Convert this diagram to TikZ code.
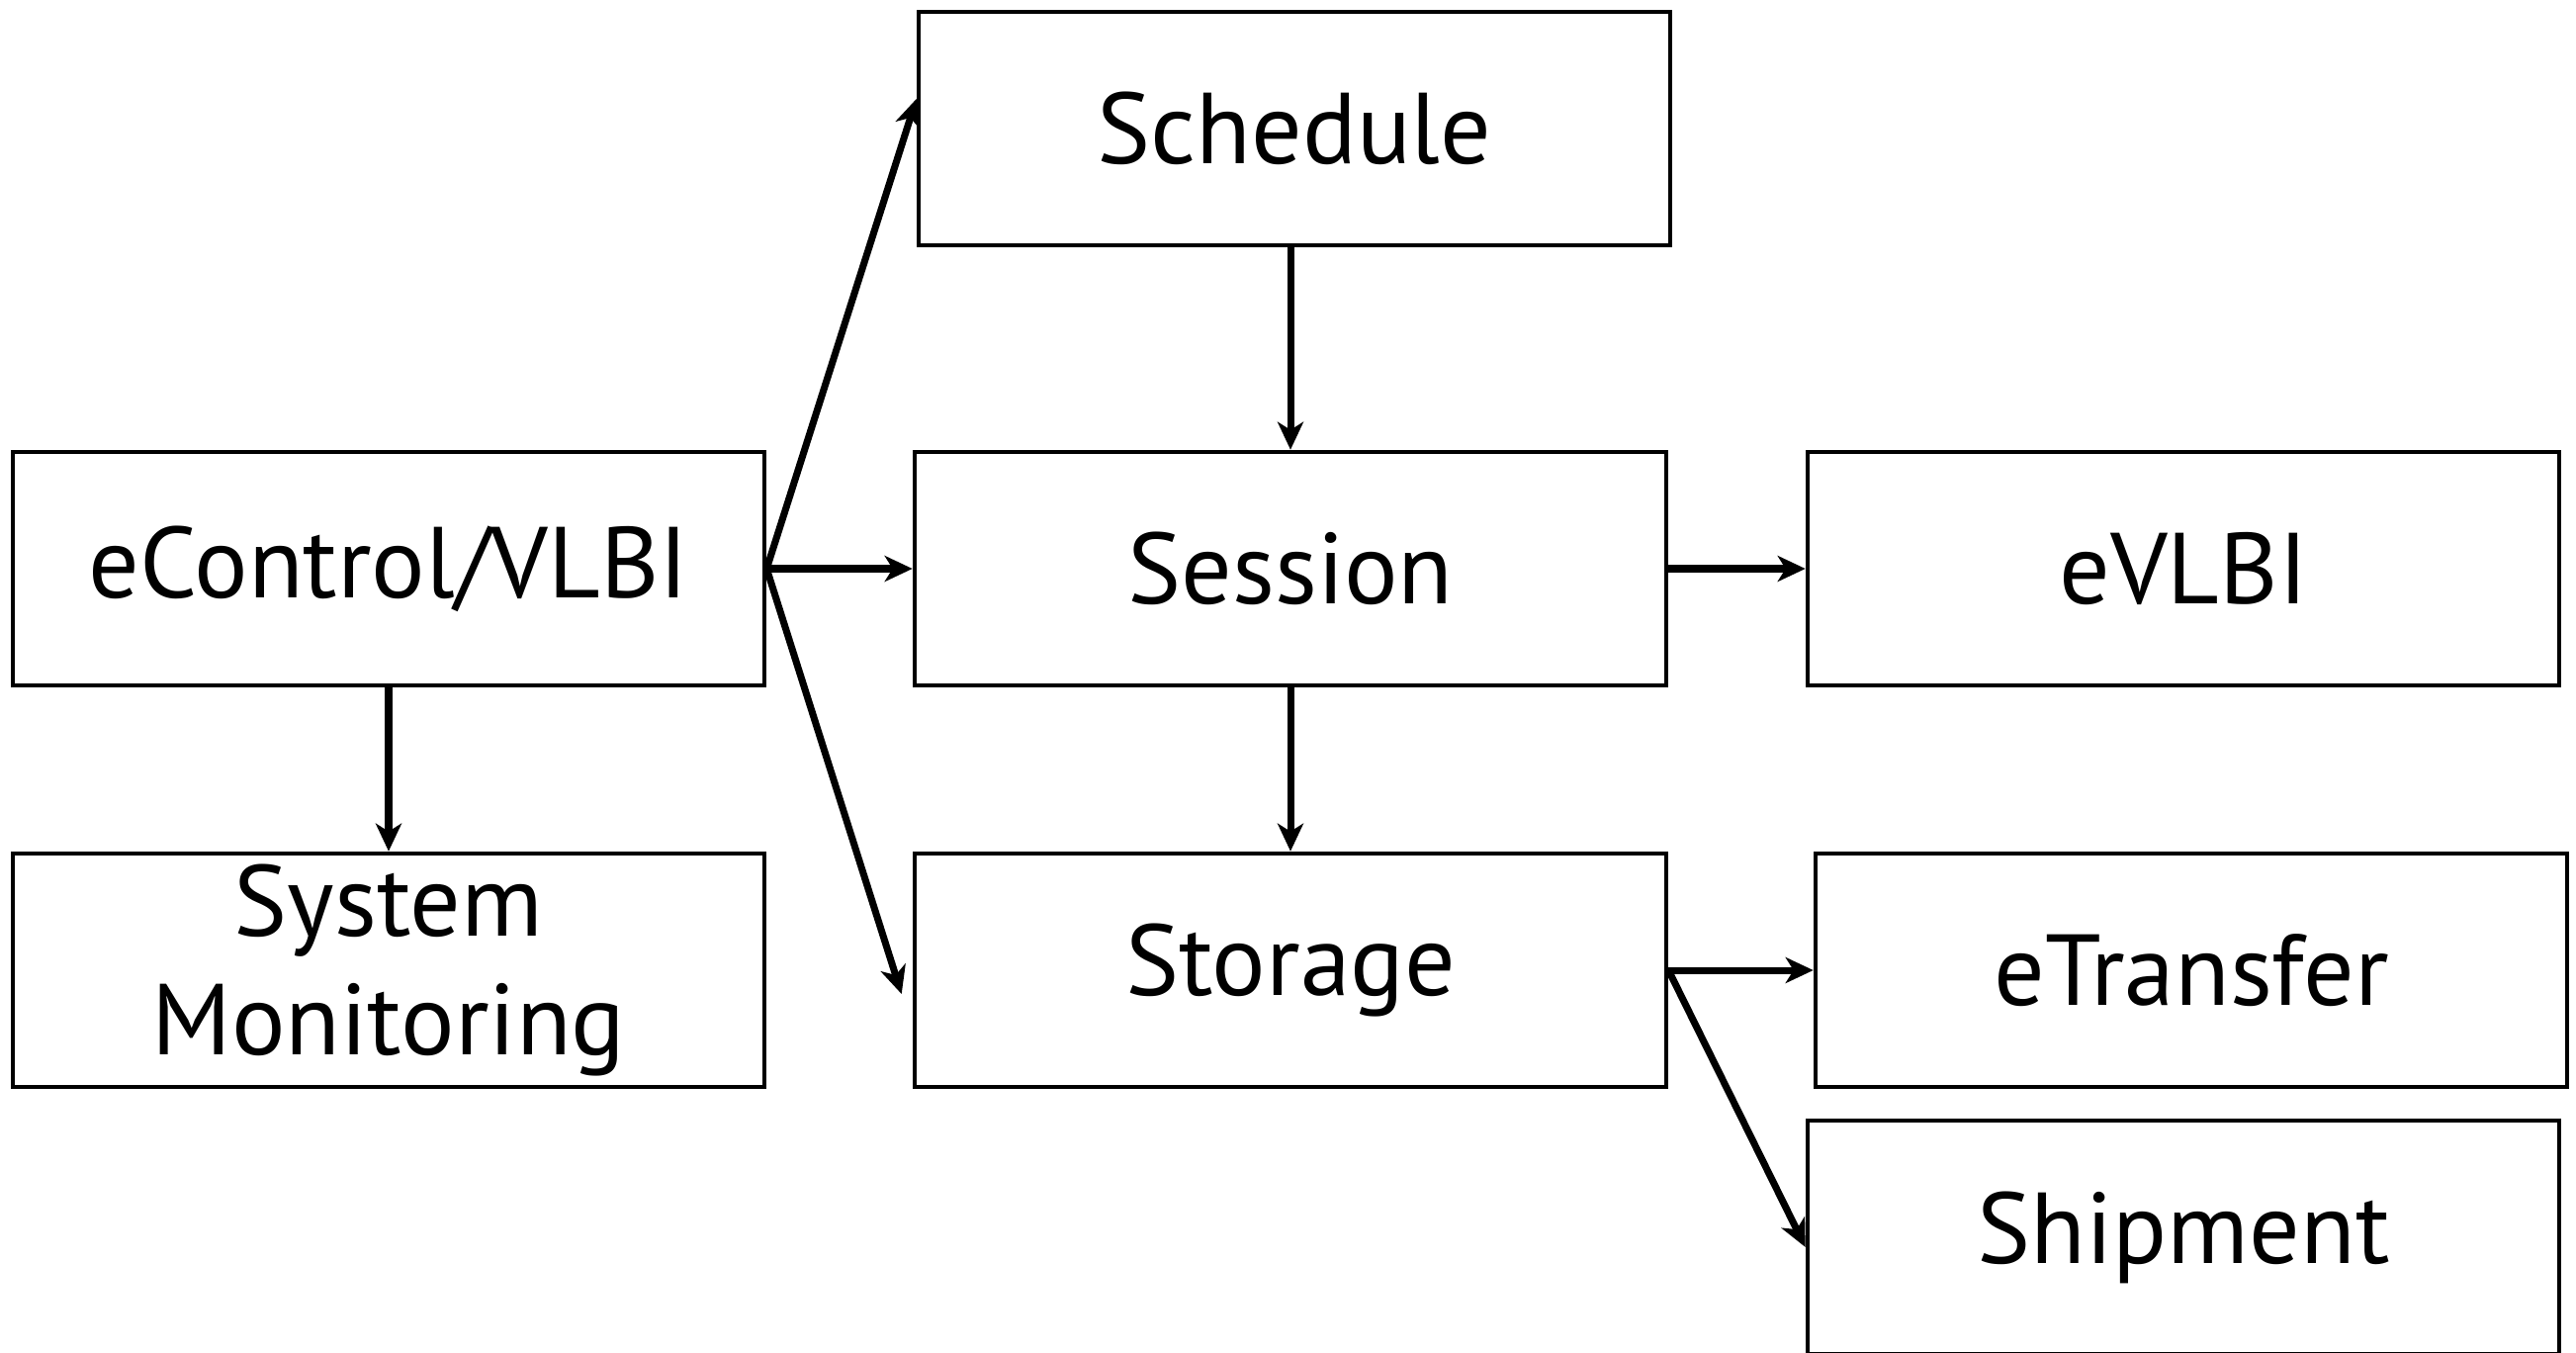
\documentclass[tikz,border=0pt]{standalone}
\usepackage{fontspec}
\setmainfont{PT Sans}
\usetikzlibrary{positioning,arrows.meta}

\begin{document}
\begin{tikzpicture}[
  box/.style={draw, rectangle, line width=1.3pt, minimum width=7.6cm,
    minimum height=2.36cm, inner sep=0pt, align=center,
    font=\fontsize{29}{34}\selectfont},
  link/.style={line width=2pt,
    -{Stealth[length=2.8mm, width=2.6mm, inset=0.8mm]}}]

  \useasboundingbox (0,0) rectangle (26.05,13.67);

  \node [box] (ctrl) at (3.93,7.92) {eControl/VLBI};
  \node [box] (sess) at (13.05,7.92) {Session};

  \path (ctrl) ++(0,-4.06) node [box] (mon)   {System\\Monitoring};
  \path (sess) ++(0.04,4.45) node [box] (sched) {Schedule};
  \path (sess) ++(0,-4.06) node [box] (stor)  {Storage};
  \path (sess) ++(9.03,0)  node [box] (evlbi) {eVLBI};
  \path (stor) ++(9.11,0)  node [box] (etrans) {eTransfer};
  \path (evlbi) ++(0,-6.76) node [box] (ship)  {Shipment};

  \draw [link] (ctrl.east) -- ([yshift=3mm]sched.west);
  \draw [link] (ctrl.east) -- (sess.west);
  \draw [link] (ctrl.east) -- ([xshift=-1.1mm, yshift=-2.4mm]stor.west);
  \draw [link] (ctrl.south) -- (mon.north);
  \draw [link] (sess.north |- sched.south) -- (sess.north);
  \draw [link] (sess.south) -- (stor.north);
  \draw [link] (sess.east) -- (evlbi.west);
  \draw [link] (stor.east) -- (etrans.west);
  \draw [link] (stor.east) -- ([yshift=-1mm]ship.west);
\end{tikzpicture}
\end{document}
